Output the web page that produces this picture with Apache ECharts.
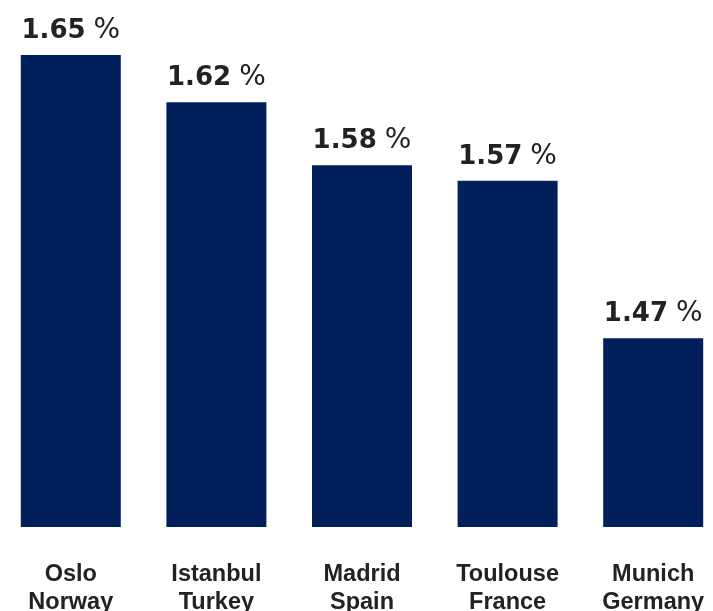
<!DOCTYPE html>
<html>
<head>
<meta charset="utf-8">
<style>
  html, body { margin: 0; padding: 0; background: #ffffff; }
  #chart { width: 713px; height: 611px; }
</style>
<script src="https://cdn.jsdelivr.net/npm/echarts@6/dist/echarts.min.js"></script>
</head>
<body>
<div id="chart"></div>
<script>
// Cities and their countries, shown as two-line category labels
const cities = ['Oslo', 'Istanbul', 'Madrid', 'Toulouse', 'Munich'];
const countries = ['Norway', 'Turkey', 'Spain', 'France', 'Germany'];
// Rate per city, in percent
const rates = [1.65, 1.62, 1.58, 1.57, 1.47];

const categories = cities.map((c, i) => c + '\n' + countries[i]);

const chart = echarts.init(document.getElementById('chart'), null, { renderer: 'canvas' });
chart.setOption({
  animation: false,
  backgroundColor: '#ffffff',
  grid: { left: -2, width: 728, top: 55, bottom: 84, containLabel: false, outerBoundsMode: 'none' },
  xAxis: {
    type: 'category',
    data: categories,
    axisLine: { show: false },
    axisTick: { show: false },
    axisLabel: {
      margin: 34,
      color: '#222222',
      fontFamily: '"Liberation Sans", Arial, sans-serif',
      fontWeight: 'bold',
      fontSize: 23.5,
      lineHeight: 28,
      align: 'center'
    }
  },
  yAxis: {
    type: 'value',
    min: 1.35,
    max: 1.65,
    show: false,
    splitLine: { show: false }
  },
  series: [{
    type: 'bar',
    data: rates,
    barWidth: 100,
    itemStyle: { color: '#001f5b' },
    label: {
      show: true,
      position: 'top',
      distance: 10,
      formatter: p => '{v|' + p.value.toFixed(2) + '}{p|%}',
      rich: {
        v: {
          fontFamily: '"DejaVu Sans", Verdana, sans-serif',
          fontWeight: 'bold',
          fontSize: 26,
          color: '#222222'
        },
        p: {
          fontFamily: '"DejaVu Sans", Verdana, sans-serif',
          fontSize: 28,
          color: '#222222',
          padding: [0, 0, 0, 8]
        }
      }
    }
  }]
});
</script>
</body>
</html>
